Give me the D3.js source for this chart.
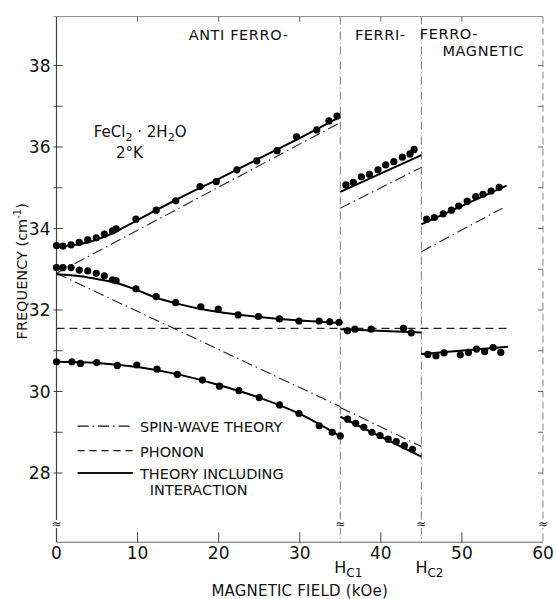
<!DOCTYPE html>
<html>
<head>
  <style>
    body { margin: 0; background: #fff; }
    text { font-family: "DejaVu Sans", sans-serif; fill: #111; }
  </style>
</head>
<body>
<script src="https://d3js.org/d3.v7.min.js"></script>
<svg id="chart" width="556" height="599"></svg>
<script>
  // measured points, [field kOe, frequency cm-1]
  var afUpper = [[0,33.58],[0.8,33.57],[1.8,33.6],[2.8,33.66],[3.85,33.72],[4.9,33.77],[5.9,33.86],[6.9,33.94],[7.35,33.99],
    [9.8,34.23],[12.3,34.45],[14.7,34.68],[17.7,35.03],[19.7,35.15],[22.25,35.44],[24.7,35.66],[27.2,35.91],[29.6,36.25],
    [32.1,36.42],[33.6,36.64],[34.6,36.76]];
  var afMiddle = [[0,33.04],[0.8,33.04],[1.8,33.04],[2.8,32.98],[3.85,32.96],[4.9,32.9],[5.9,32.84],[6.9,32.74],[7.35,32.72],
    [9.8,32.52],[12.3,32.33],[14.7,32.18],[17.8,32.08],[19.95,32.02],[22.4,31.88],[24.9,31.84],[27.5,31.78],[29.9,31.73],
    [32.4,31.73],[33.7,31.71],[34.85,31.7]];
  var afLower = [[0,30.73],[1.9,30.73],[2.95,30.69],[4.96,30.71],[7.5,30.64],[9.9,30.65],[12.4,30.55],[14.9,30.42],
    [18,30.28],[20.1,30.13],[22.5,30.02],[25,29.85],[27.5,29.67],[29.9,29.46],[32.4,29.16],[34,29.0],[35,28.91]];
  var ferriUpper = [[35.7,35.07],[36.6,35.13],[37.6,35.27],[38.6,35.33],[39.65,35.44],[40.6,35.56],[41.6,35.64],
    [42.65,35.75],[43.6,35.83],[44.1,35.94]];
  var ferriMiddle = [[35.9,31.49],[36.8,31.53],[38.8,31.53],[42.8,31.55],[43.75,31.44]];
  var ferriLower = [[35.9,29.32],[36.9,29.22],[37.9,29.12],[38.9,29.0],[39.9,28.92],[40.9,28.83],[41.9,28.77],
    [42.9,28.67],[43.9,28.58]];
  var ferroUpper = [[45.65,34.23],[46.6,34.27],[47.7,34.36],[48.7,34.45],[49.6,34.55],[50.65,34.67],[51.7,34.78],
    [52.6,34.84],[53.6,34.92],[54.6,35.01]];
  var ferroLower = [[45.8,30.91],[46.8,30.88],[47.8,30.95],[49.8,30.9],[50.8,30.96],[51.8,31.04],[52.8,30.98],
    [53.85,31.08],[54.8,30.96]];

  // theory including interaction
  var thAfUpper = [[0,33.55],[3,33.62],[6,33.8],[9,34.1],[12,34.42],[15,34.73],[20,35.22],[25,35.72],[30,36.22],[35,36.74]];
  var thAfMiddle = [[0,32.88],[3,32.83],[5,32.76],[7.35,32.67],[9.8,32.5],[12.3,32.3],[15,32.15],[17.2,32.05],[20,31.95],
    [25,31.83],[30,31.74],[35,31.68]];
  var thAfLower = [[0,30.73],[5,30.7],[10,30.6],[15,30.42],[20,30.16],[25,29.85],[30,29.45],[35,28.9]];
  var thFerriUpper = [[35,34.9],[45,35.8]];
  var thFerriMiddle = [[35,31.53],[45,31.45]];
  var thFerriLower = [[35,29.38],[45,28.4]];
  var thFerroUpper = [[45,34.1],[55.5,35.05]];
  var thFerroLower = [[45,30.92],[55.7,31.1]];

  // spin-wave theory
  var swLines = [
    [[0,32.9],[35,36.6]],
    [[0,32.9],[35,29.63]],
    [[35,34.5],[45,35.5]],
    [[35,29.61],[45,28.65]],
    [[45,33.43],[55,34.5]]
  ];
  // phonon
  var phonon = [[0,31.55],[56,31.55]];

  var yTicks = [28, 30, 32, 34, 36, 38];
  var xTicks = [0, 10, 20, 30, 40, 50, 60];
  var criticalFields = [35, 45];
  var criticalLabels = ["C1", "C2"];
  var phaseLabels = ["ANTI FERRO-", "FERRI-", "FERRO-", "MAGNETIC"];

  var svg = d3.select("#chart");
  var x = d3.scaleLinear().domain([0, 60]).range([56.5, 543]);
  var y = d3.scaleLinear().domain([28, 38]).range([473, 65.5]);
  var yBot = y(26.3), yTop = y(39.2);
  var x0 = x(0), x1 = x(60);

  // frame
  svg.append("line").attr("x1", x0).attr("x2", x0).attr("y1", yTop).attr("y2", yBot)
    .attr("stroke", "#444").attr("stroke-width", 1.2);
  svg.append("line").attr("x1", x0).attr("x2", x1).attr("y1", yBot).attr("y2", yBot)
    .attr("stroke", "#666").attr("stroke-width", 1.1);
  svg.append("line").attr("x1", x0 - 3).attr("x2", x1).attr("y1", yTop).attr("y2", yTop)
    .attr("stroke", "#888").attr("stroke-width", 1);
  svg.append("line").attr("x1", x1).attr("x2", x1).attr("y1", yTop).attr("y2", yBot)
    .attr("stroke", "#888").attr("stroke-width", 1).attr("stroke-dasharray", "7,4");

  // critical field lines
  criticalFields.forEach(function(h) {
    svg.append("line").attr("x1", x(h)).attr("x2", x(h)).attr("y1", yTop).attr("y2", yBot)
      .attr("stroke", "#777").attr("stroke-width", 1).attr("stroke-dasharray", "8,3,1,3");
  });

  // y ticks: integers, major labelled
  d3.range(28, 39).forEach(function(v) {
    svg.append("line").attr("x1", x0 - 3).attr("x2", x0 + 6).attr("y1", y(v)).attr("y2", y(v))
      .attr("stroke", "#444").attr("stroke-width", 1);
    svg.append("line").attr("x1", x1 - 5).attr("x2", x1).attr("y1", y(v)).attr("y2", y(v))
      .attr("stroke", "#666").attr("stroke-width", 1);
  });
  yTicks.forEach(function(v) {
    svg.append("text").attr("x", x0 - 6).attr("y", y(v) + 6).attr("text-anchor", "end")
      .style("font-size", "17px").text(v);
  });

  // x ticks
  xTicks.forEach(function(v) {
    if (v > 0 && v < 60) {
      svg.append("line").attr("x1", x(v)).attr("x2", x(v)).attr("y1", yBot).attr("y2", yBot - 10)
        .attr("stroke", "#444").attr("stroke-width", 1);
      svg.append("line").attr("x1", x(v)).attr("x2", x(v)).attr("y1", yTop).attr("y2", yTop + 5)
        .attr("stroke", "#666").attr("stroke-width", 1);
    }
    svg.append("text").attr("x", x(v)).attr("y", yBot + 17).attr("text-anchor", "middle")
      .style("font-size", "17px").text(v);
  });
  criticalFields.forEach(function(h, i) {
    var t = svg.append("text").attr("x", x(h) - 6).attr("y", yBot + 31).style("font-size", "16px");
    t.append("tspan").text("H");
    t.append("tspan").attr("dy", 4).style("font-size", "12px").text(criticalLabels[i]);
  });

  // axis breaks
  [0, 35, 45, 60].forEach(function(h) {
    svg.append("rect").attr("x", x(h) - 4).attr("y", y(26.75) - 4).attr("width", 8).attr("height", 8)
      .attr("fill", "#fff");
    svg.append("text").attr("x", x(h)).attr("y", y(26.75) + 4).attr("text-anchor", "middle")
      .style("font-size", "12px").text("≈");
  });

  // axis titles
  svg.append("text").attr("transform", "translate(27," + y(32.95) + ") rotate(-90)")
    .attr("text-anchor", "middle").style("font-size", "14.5px")
    .call(function(t) {
      t.append("tspan").text("FREQUENCY (cm");
      t.append("tspan").attr("dy", -6).style("font-size", "10px").text("-1");
      t.append("tspan").attr("dy", 6).text(")");
    });
  svg.append("text").attr("x", x(30)).attr("y", 596).attr("text-anchor", "middle")
    .style("font-size", "15px").style("letter-spacing", "0.2px").text("MAGNETIC FIELD (kOe)");

  // phase labels
  var phase = svg.append("g").style("font-size", "14.5px").style("letter-spacing", "0.6px");
  phase.append("text").attr("x", x(16.3)).attr("y", 40).text(phaseLabels[0]);
  phase.append("text").attr("x", x(36.8)).attr("y", 40).text(phaseLabels[1]);
  phase.append("text").attr("x", x(44.8)).attr("y", 39).text(phaseLabels[2]);
  phase.append("text").attr("x", x(47.6)).attr("y", 56).text(phaseLabels[3]);

  // sample label
  var s = svg.append("text").attr("x", x(4.6)).attr("y", 137).style("font-size", "15px");
  s.append("tspan").text("FeCl");
  s.append("tspan").attr("dy", 4).style("font-size", "11px").text("2");
  s.append("tspan").attr("dy", -4).text(" · 2H");
  s.append("tspan").attr("dy", 4).style("font-size", "11px").text("2");
  s.append("tspan").attr("dy", -4).text("O");
  svg.append("text").attr("x", x(9.0)).attr("y", 158).attr("text-anchor", "middle")
    .style("font-size", "15px").text("2°K");

  var line = d3.line().x(function(d) { return x(d[0]); }).y(function(d) { return y(d[1]); });
  var curve = d3.line().x(function(d) { return x(d[0]); }).y(function(d) { return y(d[1]); })
    .curve(d3.curveMonotoneX);

  // phonon
  svg.append("path").attr("d", line(phonon)).attr("fill", "none").attr("stroke", "#222")
    .attr("stroke-width", 1.2).attr("stroke-dasharray", "8,5");

  // spin wave
  swLines.forEach(function(l) {
    svg.append("path").attr("d", line(l)).attr("fill", "none").attr("stroke", "#222")
      .attr("stroke-width", 1.1).attr("stroke-dasharray", "11,4,1.5,4");
  });

  // theory incl. interaction
  [thAfUpper, thAfMiddle, thAfLower, thFerriUpper, thFerriMiddle, thFerriLower, thFerroUpper, thFerroLower]
    .forEach(function(l) {
      svg.append("path").attr("d", curve(l)).attr("fill", "none").attr("stroke", "#000")
        .attr("stroke-width", 2);
    });

  // points
  [afUpper, afMiddle, afLower, ferriUpper, ferriMiddle, ferriLower, ferroUpper, ferroLower].forEach(function(set) {
    svg.append("g").selectAll("circle").data(set).enter().append("circle")
      .attr("cx", function(d) { return x(d[0]); })
      .attr("cy", function(d) { return y(d[1]); })
      .attr("r", 3.6).attr("fill", "#000");
  });

  // legend
  var legendItems = [
    {dash: "11,4,1.5,4", w: 1.1, v: 29.15, label: ["SPIN-WAVE THEORY"]},
    {dash: "7,5", w: 1.2, v: 28.55, label: ["PHONON"]},
    {dash: null, w: 2, v: 28.0, label: ["THEORY INCLUDING", "INTERACTION"]}
  ];
  legendItems.forEach(function(d) {
    var ln = svg.append("line").attr("x1", x(2.6)).attr("x2", x(9.4)).attr("y1", y(d.v)).attr("y2", y(d.v))
      .attr("stroke", "#111").attr("stroke-width", d.w);
    if (d.dash) ln.attr("stroke-dasharray", d.dash);
    d.label.forEach(function(t, i) {
      svg.append("text").attr("x", x(i === 0 ? 10.3 : 11.5)).attr("y", y(d.v) + 6 + i * 16)
        .style("font-size", "14.5px").text(t);
    });
  });
</script>
</body>
</html>
